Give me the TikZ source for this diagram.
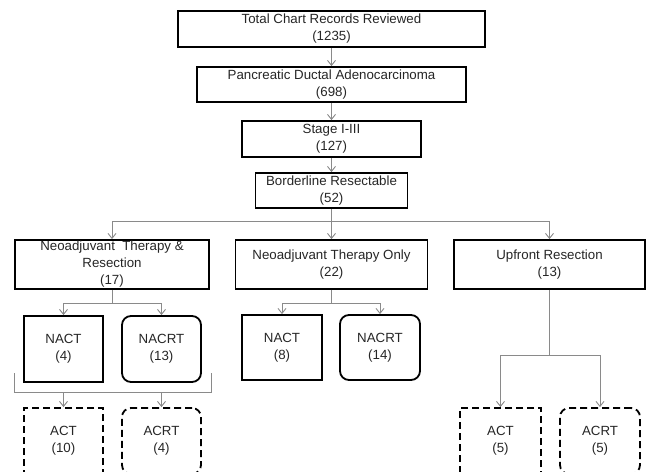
\documentclass[tikz,border=0pt]{standalone}
\usepackage{fontspec}
\setmainfont{Liberation Sans}
\usetikzlibrary{arrows.meta}
\definecolor{conncol}{HTML}{8A8A8A}
\definecolor{txtcol}{HTML}{262626}
\tikzset{
  box/.style={draw=black, line width=1.8pt, inner sep=0pt, align=center,
    text=txtcol, font=\fontsize{13.3}{17}\selectfont},
  rbox/.style={box, rounded corners=9pt},
  dbox/.style={box, dash pattern=on 7pt off 4pt},
  drbox/.style={dbox, rounded corners=9pt},
  conn/.style={draw=conncol, line width=0.9pt},
  arr/.style={conn, -{Straight Barb[length=5pt,width=8pt]}}
}
\begin{document}
\begin{tikzpicture}[x=1pt,y=-1pt]
\useasboundingbox (0,0) rectangle (647,471);
\clip (0,0) rectangle (647,471);
\fill[white] (0,0) rectangle (647,471);
% main column
\node[box, minimum width=307pt, minimum height=36pt] (tot) at (331.5,29) {Total Chart Records Reviewed\\(1235)};
\node[box, minimum width=269pt, minimum height=35pt] (pda) at (331.5,84.5) {Pancreatic Ductal Adenocarcinoma\\(698)};
\node[box, minimum width=179pt, minimum height=36pt] (stg) at (331.5,139) {Stage I-III\\(127)};
\node[box, minimum width=152pt, minimum height=35pt] (bor) at (331.5,190.5) {Borderline Resectable\\(52)};
% second level
\node[box, minimum width=194pt, minimum height=49pt] (ntr) at (112,264.5) {Neoadjuvant\ \ Therapy \&\\Resection\\(17)};
\node[box, minimum width=192pt, minimum height=49pt] (nto) at (331.5,264.5) {Neoadjuvant Therapy Only\\(22)};
\node[box, minimum width=191pt, minimum height=49pt] (upr) at (549.5,264.5) {Upfront Resection\\(13)};
% third level
\node[box, minimum width=79pt, minimum height=66pt] (nact4) at (63.5,349) {NACT\\(4)};
\node[rbox, minimum width=79pt, minimum height=66pt] (nacrt13) at (161.5,349) {NACRT\\(13)};
\node[box, minimum width=80pt, minimum height=65pt] (nact8) at (282,347.5) {NACT\\(8)};
\node[rbox, minimum width=80pt, minimum height=65pt] (nacrt14) at (380,347.5) {NACRT\\(14)};
% fourth level
\node[dbox, minimum width=79pt, minimum height=66pt] (act10) at (63.5,441) {ACT\\(10)};
\node[drbox, minimum width=79pt, minimum height=66pt] (acrt4) at (161.5,441) {ACRT\\(4)};
\node[dbox, minimum width=81pt, minimum height=66pt] (act5) at (500.5,441) {ACT\\(5)};
\node[drbox, minimum width=80pt, minimum height=66pt] (acrt5) at (600,441) {ACRT\\(5)};
% connectors main column
\draw[arr] (tot) -- (pda);
\draw[arr] (pda) -- (stg);
\draw[arr] (stg) -- (bor);
% split from Borderline
\coordinate (s1) at (0,221);
\draw[conn] (bor.south) -- (bor.south |- s1);
\draw[conn] (ntr.north |- s1) -- (upr.north |- s1);
\draw[arr] (ntr.north |- s1) -- (ntr.north);
\draw[arr] (nto.north |- s1) -- (nto.north);
\draw[arr] (upr.north |- s1) -- (upr.north);
% split from NT & Resection
\coordinate (s2) at (0,303);
\draw[conn] (ntr.south) -- (ntr.south |- s2);
\draw[conn] (nact4.north |- s2) -- (nacrt13.north |- s2);
\draw[arr] (nact4.north |- s2) -- (nact4.north);
\draw[arr] (nacrt13.north |- s2) -- (nacrt13.north);
% split from NT only
\draw[conn] (nto.south) -- (nto.south |- s2);
\draw[conn] (nact8.north |- s2) -- (nacrt14.north |- s2);
\draw[arr] (nact8.north |- s2) -- (nact8.north);
\draw[arr] (nacrt14.north |- s2) -- (nacrt14.north);
% bracket under NACT/NACRT
\coordinate (bl) at (14.5,373);
\coordinate (br) at (211,373);
\coordinate (s3) at (0,392);
\draw[conn] (bl) -- (bl |- s3) -- (br |- s3) -- (br);
\draw[arr] (act10.north |- s3) -- (act10.north);
\draw[arr] (acrt4.north |- s3) -- (acrt4.north);
% split from Upfront
\coordinate (s4) at (0,355);
\draw[conn] (upr.south) -- (upr.south |- s4);
\draw[conn] (act5.north |- s4) -- (acrt5.north |- s4);
\draw[arr] (act5.north |- s4) -- (act5.north);
\draw[arr] (acrt5.north |- s4) -- (acrt5.north);
\end{tikzpicture}
\end{document}
